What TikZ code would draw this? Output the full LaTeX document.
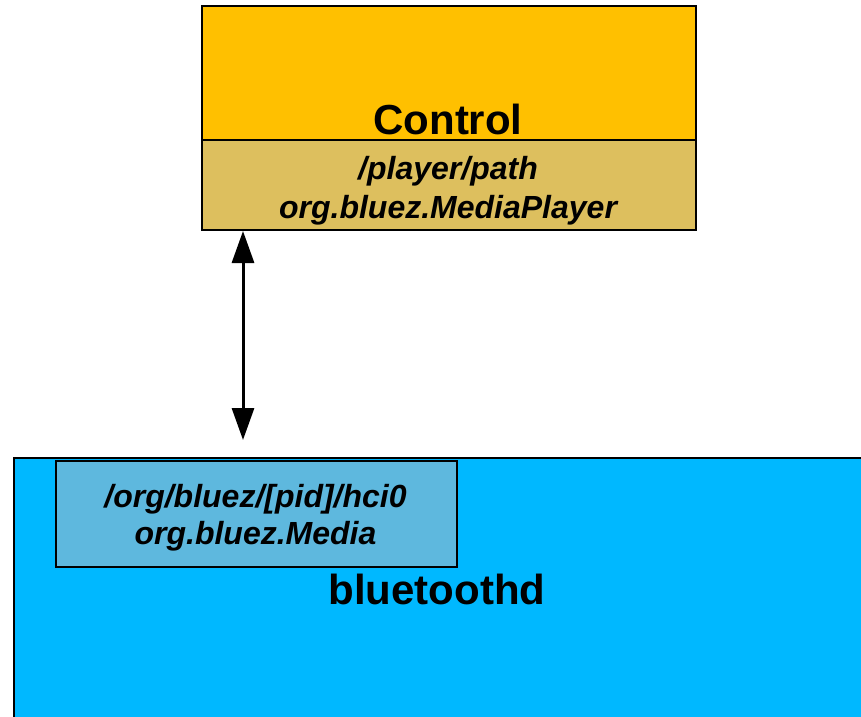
\documentclass[tikz,border=0pt]{standalone}
\usepackage{fontspec}
\setmainfont{Liberation Sans}
\usetikzlibrary{arrows.meta,positioning}
\definecolor{ctrlgold}{HTML}{FFC000}
\definecolor{ctrlsand}{HTML}{DDBF5E}
\definecolor{btblue}{HTML}{00B8FF}
\definecolor{mediablue}{HTML}{5EB8DE}

\begin{document}
\begin{tikzpicture}[x=0.75pt,y=-0.75pt,
    box/.style={draw=black, line width=1.5pt, inner sep=0pt, anchor=north west},
    bigtxt/.style={font=\fontsize{31.5}{36}\selectfont\bfseries, anchor=base},
    smalltxt/.style={font=\fontsize{24}{28}\selectfont\bfseries\itshape, anchor=base}]
    \useasboundingbox (0,0) rectangle (861,717);

    % Blue - bluetoothd (runs past the right and bottom edges)
    \node[box, fill=btblue, minimum width=660pt, minimum height=210pt] (bluetoothd) at (13,457) {};
    \node[bigtxt] (bluetoothdtxt) at (437,604) {bluetoothd};

    % Media object inside bluetoothd
    \node[box, fill=mediablue, minimum width=300.75pt, minimum height=79.5pt] (media) at (55,460) {};
    \node[smalltxt] (mediapath) at (255.5,507) {/org/bluez/[pid]/hci0};
    \node[smalltxt] (mediaiface) at (255.5,544) {org.bluez.Media};

    % Gold - Control
    \node[box, fill=ctrlgold, minimum width=370.5pt, minimum height=100.5pt] (control) at (201,5) {};
    \node[bigtxt] (controltxt) at (448,135) {Control};

    % Sand - player object under Control
    \node[box, fill=ctrlsand, minimum width=370.5pt, minimum height=67.5pt] (player) at (201,139) {};
    \node[smalltxt] (playerpath) at (448,180) {/player/path};
    \node[smalltxt] (playeriface) at (448,218) {org.bluez.MediaPlayer};

    % Two-way link, stops short of bluetoothd
    \coordinate (linkend) at (243,440);
    \draw[line width=2.25pt, {Triangle[length=24pt,width=16.5pt]}-{Triangle[length=24pt,width=16.5pt]}]
        (player.south -| linkend) -- (linkend);
\end{tikzpicture}
\end{document}
